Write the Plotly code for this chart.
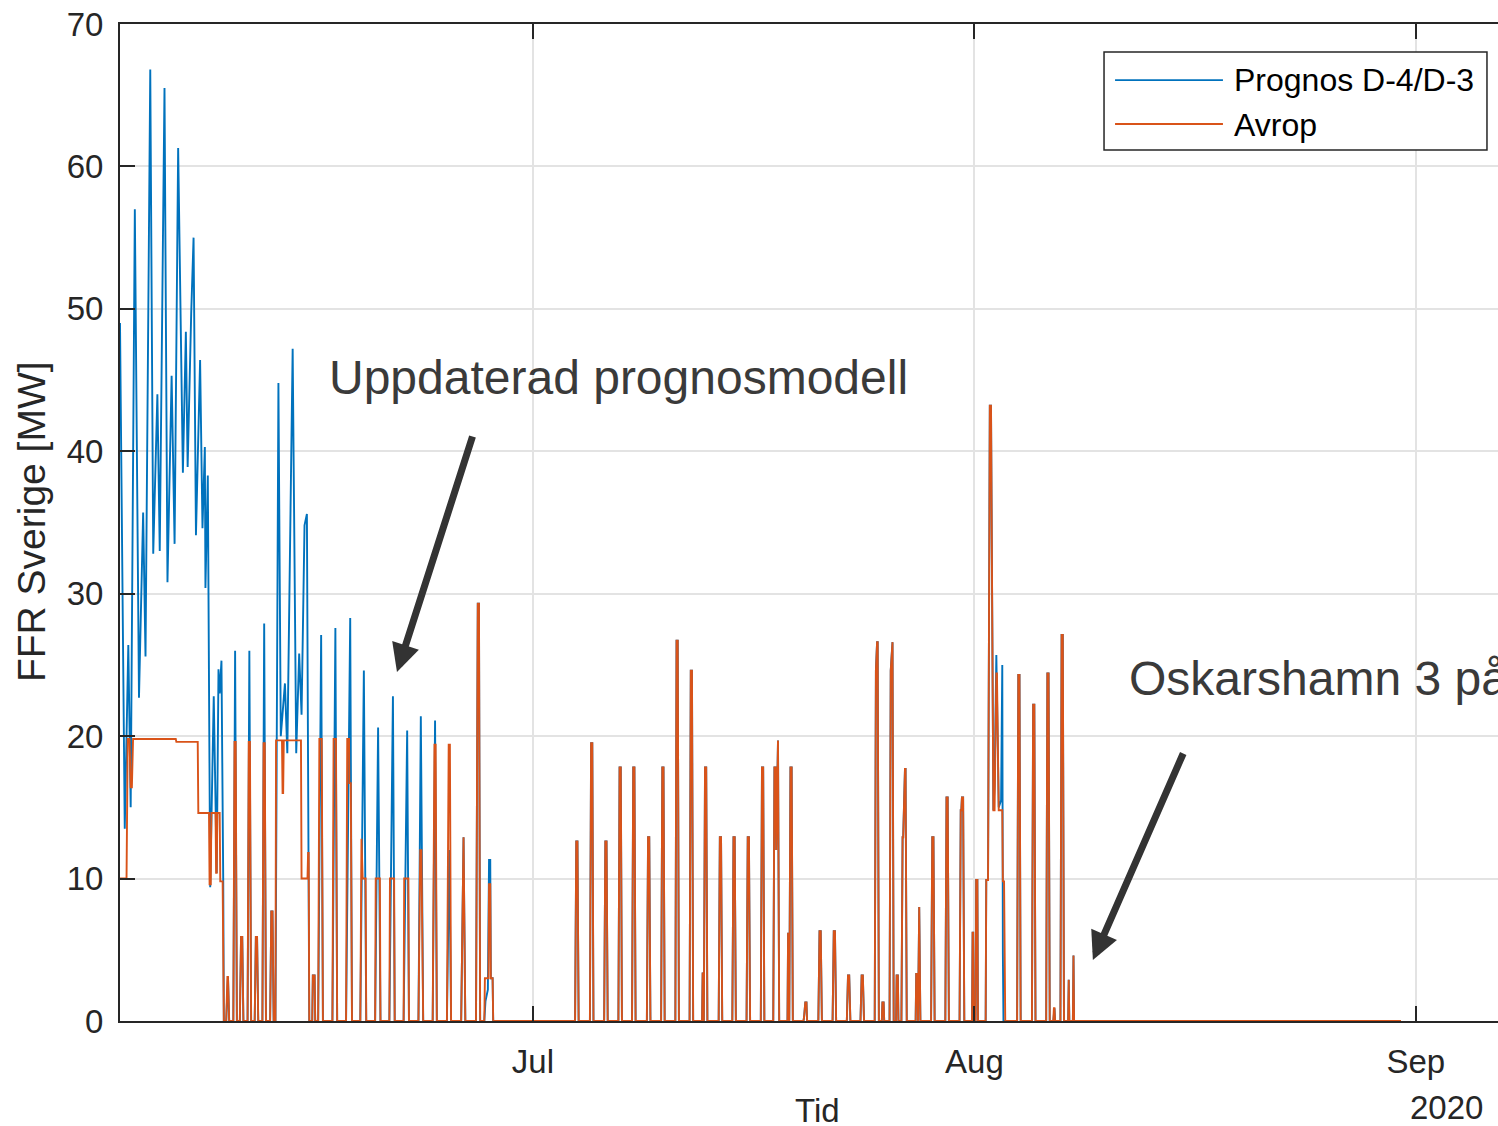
"""
FFR Sverige: prognos D-4/D-3 vs avrop, sommaren 2020.
"""
import pandas as pd
import plotly.graph_objects as go

START = pd.Timestamp("2020-06-02 00:00")
X_END_H = 2322.5          # visible part of the time axis, hours after START

BLUE = "#0072BD"
ORANGE = "#D95319"
AXIS = "#262626"
GRID = "#e3e3e3"
FONT = "Liberation Sans, Arial, sans-serif"

# ── Data: (hours after 2020-06-02 00:00, MW) ──────────────────────────────────
prognos_jun = [
    (0, 49), (2, 41), (8, 13.5), (14, 26.4), (18, 15), (25, 57), (32, 22.7),
    (39, 35.7), (43, 25.6), (51, 66.8), (56, 32.8), (63, 44), (67, 33),
    (75, 65.5), (80, 30.8), (87, 45.3), (92, 33.5), (98, 61.3), (106, 38.5),
    (111, 48.4), (114, 38.9), (120, 49.7), (124, 55), (128, 34.1), (135, 46.4),
    (139, 34.6), (143, 40.3), (144, 30.4), (148, 38.3), (152, 9.4), (158, 22.8),
    (163, 10.4), (166, 24.7), (168, 23), (171, 25.3), (174, 9.8), (175, 0),
    (179, 0), (181, 3.1), (182, 3.1), (184, 0),
    (191, 0), (194, 26), (197, 0),
    (202, 0), (204, 5.9), (206, 5.9), (208, 0),
    (215, 0), (218, 26), (221, 0),
    (227, 0), (229, 5.9), (231, 5.9), (233, 0),
    (240, 0), (243, 27.9), (246, 0),
    (253, 0), (255, 7.7), (257, 7.7), (259, 0),
    (262, 0), (267, 44.8), (271, 20), (278, 23.7), (282, 18.8), (291, 47.2),
    (297, 18.8), (302, 25.8), (306, 21.5), (311, 34.8), (315, 35.6),
    (317, 11.8), (319, 0),
    (324, 0), (325, 3.2), (328, 3.2), (329, 0),
    (334, 0), (339, 27.1), (342, 0),
    (358, 0), (363, 27.6), (366, 0),
    (381, 0), (388, 28.3), (391, 0),
    (405, 0), (411, 24.6), (415, 0),
    (430, 0), (435, 20.6), (439, 0),
    (454, 0), (460, 22.8), (463, 0),
    (478, 0), (484, 20.4), (487, 0),
    (503, 0), (507, 21.4), (511, 0),
    (527, 0), (531, 21.1), (534, 0),
    (551, 0), (555, 12), (558, 0),
    (575, 0), (578, 12.9), (579, 12.9), (582, 0),
    (600, 0), (603, 29.3), (605, 29.3), (607, 0),
    (614, 0), (616, 1.4), (620, 2.2), (622, 11.3), (624, 11.3), (625, 3),
    (628, 3), (629, 0),
]

avrop_jun = [
    (0, 10), (11, 10), (13, 19.8), (16, 19.8), (18, 16.4), (20, 16.4),
    (22, 19.8), (94, 19.8), (95, 19.6), (131, 19.6), (132, 14.6), (150, 14.6),
    (151, 9.6), (153, 9.6), (154, 14.6), (161, 14.6), (162, 10.4), (163, 10.4),
    (164, 14.6), (168, 14.6), (169, 9.8), (173, 9.8), (175, 0),
    (179, 0), (181, 3.1), (182, 3.1), (184, 0),
    (191, 0), (193, 19.6), (195, 19.6), (197, 0),
    (202, 0), (204, 5.9), (206, 5.9), (208, 0),
    (215, 0), (217, 19.6), (219, 19.6), (221, 0),
    (227, 0), (229, 5.9), (231, 5.9), (233, 0),
    (240, 0), (242, 19.5), (244, 19.5), (246, 0),
    (253, 0), (255, 7.7), (257, 7.7), (259, 0),
    (262, 0), (263, 19.7), (273, 19.7), (274, 16), (275, 16), (276, 19.7),
    (305, 19.7), (306, 10), (316, 10), (317, 11.8), (318, 11.8), (319, 0),
    (324, 0), (325, 3.2), (328, 3.2), (329, 0),
    (334, 0), (336, 19.8), (340, 19.8), (342, 0),
    (358, 0), (360, 19.8), (364, 19.8), (366, 0),
    (381, 0), (383, 19.8), (386, 19.8), (386.5, 16.7), (389, 16.7), (391, 0),
    (405, 0), (407, 12.8), (409, 10), (414, 10), (415, 0),
    (430, 0), (431, 10), (438, 10), (439, 0),
    (454, 0), (455, 10), (462, 10), (463, 0),
    (478, 0), (479, 10), (486, 10), (487, 0),
    (503, 0), (506, 12), (508, 12), (511, 0),
    (527, 0), (530, 19.4), (532, 19.4), (534, 0),
    (551, 0), (554, 19.4), (556, 19.4), (558, 0),
    (575, 0), (578, 12.9), (579, 12.9), (582, 0),
    (600, 0), (603, 29.3), (605, 29.3), (607, 0),
    (614, 0), (615, 3), (621, 3), (622, 9.6), (624, 9.6), (625, 3),
    (628, 3), (629, 0),
]

# July and early August: forecast and call-off coincide
common_jul = [
    (767, 0), (769, 12.6), (771, 12.6), (773, 0),
    (792, 0), (794, 19.5), (796, 19.5), (798, 0),
    (816, 0), (818, 12.6), (820, 12.6), (822, 0),
    (840, 0), (842, 17.8), (844, 17.8), (846, 0),
    (863, 0), (865, 17.8), (867, 17.8), (869, 0),
    (888, 0), (890, 12.9), (892, 12.9), (894, 0),
    (912, 0), (914, 17.8), (916, 17.8), (918, 0),
    (936, 0), (938, 26.7), (940, 26.7), (942, 0),
    (960, 0), (962, 24.6), (964, 24.6), (966, 0),
    (981, 0), (982, 3.4), (983, 0),
    (984, 0), (986, 17.8), (988, 17.8), (990, 0),
    (1009, 0), (1011, 12.9), (1013, 12.9), (1015, 0),
    (1032, 0), (1034, 12.9), (1036, 12.9), (1038, 0),
    (1056, 0), (1058, 12.9), (1060, 12.9), (1062, 0),
    (1080, 0), (1082, 17.8), (1084, 17.8), (1086, 0),
    (1101, 0), (1103, 17.8), (1105, 17.8), (1106, 12), (1108, 19.7),
    (1109, 19.7), (1111, 0),
    (1125, 0), (1126, 6.2), (1127, 0),
    (1128, 0), (1130, 17.8), (1132, 17.8), (1134, 0),
    (1152, 0), (1153, 0.3), (1155, 1.3), (1157, 1.3), (1158, 0),
    (1177, 0), (1179, 6.3), (1181, 6.3), (1183, 0),
    (1201, 0), (1203, 6.3), (1205, 6.3), (1207, 0),
    (1225, 0), (1227, 3.2), (1229, 3.2), (1231, 0),
    (1248, 0), (1250, 3.2), (1252, 3.2), (1254, 0),
    (1272, 0), (1274, 24.6), (1276, 26.6), (1277, 26.6), (1279, 0),
    (1284, 0), (1285, 1.3), (1287, 1.3), (1288, 0),
    (1297, 0), (1299, 24.6), (1301, 26.6), (1302, 26.6), (1304, 0),
    (1308, 0), (1309, 3.2), (1311, 3.2), (1312, 0),
    (1317, 0), (1319, 12.9), (1320, 12.9), (1323, 17.7), (1324, 17.7), (1326, 0),
    (1341, 0), (1342, 3.3), (1344, 3.3), (1345, 0), (1346, 8), (1347, 8), (1349, 0),
    (1367, 0), (1369, 12.9), (1371, 12.9), (1373, 0),
    (1391, 0), (1393, 15.7), (1395, 15.7), (1397, 0),
    (1415, 0), (1417, 14.8), (1418, 14.8), (1419, 15.7), (1421, 15.7), (1423, 0),
    (1436, 0), (1437, 6.2), (1438, 6.2), (1439, 0),
    (1442, 0), (1443, 9.9), (1445, 9.9), (1446, 0),
]

prognos_aug_peak = [
    (1459, 0), (1460, 9.9), (1463, 9.9), (1466, 43.2), (1468, 43.2),
    (1472, 14.8), (1474, 16.5), (1477, 25.7), (1479, 20), (1481, 15),
    (1485, 15.5), (1487, 25), (1488, 4.8), (1489, 0),
]

avrop_aug_peak = [
    (1459, 0), (1460, 9.9), (1463, 9.9), (1466, 43.2), (1468, 43.2),
    (1472, 14.8), (1474, 14.8), (1477, 24.4), (1478, 24.4), (1481, 14.8),
    (1487, 14.8), (1488, 9.8), (1490, 9.8), (1492, 0),
]

common_aug = [
    (1512, 0), (1514, 24.3), (1516, 24.3), (1518, 0),
    (1537, 0), (1539, 22.2), (1541, 22.2), (1543, 0),
    (1561, 0), (1563, 24.4), (1565, 24.4), (1567, 0),
    (1573, 0), (1574, 0.9), (1575, 0.9), (1576, 0),
    (1585, 0), (1587, 27.1), (1589, 27.1), (1591, 0),
    (1598, 0), (1599, 2.9), (1600, 0),
    (1606, 0), (1607, 4.6), (1608, 0),
    (2159, 0),
]

tick_dates = ["2020-07-01", "2020-08-01", "2020-09-01"]
tick_text = ["Jul", "Aug", "Sep"]
y_ticks = [0, 10, 20, 30, 40, 50, 60, 70]


def to_xy(points):
    hours = [p[0] for p in points]
    mw = [p[1] for p in points]
    return START + pd.to_timedelta(hours, unit="h"), mw


prognos_x, prognos_y = to_xy(prognos_jun + common_jul + prognos_aug_peak + common_aug)
avrop_x, avrop_y = to_xy(avrop_jun + common_jul + avrop_aug_peak + common_aug)

fig = go.Figure()
fig.add_trace(go.Scatter(
    x=prognos_x, y=prognos_y, mode="lines",
    line=dict(color=BLUE, width=1.9), name="Prognos D-4/D-3", showlegend=False,
))
fig.add_trace(go.Scatter(
    x=avrop_x, y=avrop_y, mode="lines",
    line=dict(color=ORANGE, width=1.9), name="Avrop", showlegend=False,
))

# ── Legend (drawn by hand to get MATLAB's long line samples) ────────────────
shapes = [
    dict(type="rect", xref="paper", yref="paper", x0=0.7141, x1=0.9920,
         y0=0.8736, y1=0.9719, fillcolor="white", line=dict(color=AXIS, width=1.5),
         layer="above"),
    dict(type="line", xref="paper", yref="paper", x0=0.7221, x1=0.8004,
         y0=0.9438, y1=0.9438, line=dict(color=BLUE, width=1.8), layer="above"),
    dict(type="line", xref="paper", yref="paper", x0=0.7221, x1=0.8004,
         y0=0.8997, y1=0.8997, line=dict(color=ORANGE, width=1.8), layer="above"),
]

annotations = [
    dict(text="Prognos D-4/D-3", xref="paper", yref="paper", x=0.8070, y=0.9438,
         xanchor="left", yanchor="middle", showarrow=False,
         font=dict(size=32, color="black", family=FONT)),
    dict(text="Avrop", xref="paper", yref="paper", x=0.8070, y=0.8990,
         xanchor="left", yanchor="middle", showarrow=False,
         font=dict(size=32, color="black", family=FONT)),
    # callouts
    dict(text="Uppdaterad prognosmodell", xref="paper", yref="paper",
         x=0.1502, y=0.645, xanchor="left", yanchor="middle", showarrow=False,
         font=dict(size=48, color="#3a3a3a", family=FONT)),
    dict(text="Oskarshamn 3 på", xref="paper", yref="paper",
         x=0.7308, y=0.344, xanchor="left", yanchor="middle", showarrow=False,
         font=dict(size=48, color="#3a3a3a", family=FONT)),
    dict(text="", xref="paper", yref="paper", x=0.201, y=0.350,
         ax=76, ay=-237, showarrow=True, arrowhead=2, arrowsize=0.8,
         arrowwidth=7, arrowcolor="#333333"),
    dict(text="", xref="paper", yref="paper", x=0.706, y=0.0612,
         ax=91, ay=-208, showarrow=True, arrowhead=2, arrowsize=0.8,
         arrowwidth=7, arrowcolor="#333333"),
    # axis titles
    dict(text="FFR Sverige [MW]", xref="paper", yref="paper", x=-0.0645, y=0.5005,
         textangle=-90, xanchor="center", yanchor="middle", showarrow=False,
         font=dict(size=39, color=AXIS, family=FONT)),
    dict(text="Tid", xref="paper", yref="paper", x=0.5065, y=-0.0893,
         xanchor="center", yanchor="middle", showarrow=False,
         font=dict(size=33, color=AXIS, family=FONT)),
    dict(text="2020", xref="paper", yref="paper", x=0.9906, y=-0.0863,
         xanchor="right", yanchor="middle", showarrow=False,
         font=dict(size=33, color=AXIS, family=FONT)),
]

fig.update_layout(
    width=1498, height=1126,
    paper_bgcolor="white", plot_bgcolor="white",
    margin=dict(l=120, r=0, t=24, b=105),
    font=dict(family=FONT, color=AXIS, size=33),
    shapes=shapes,
    annotations=annotations,
)
fig.update_xaxes(
    type="date",
    range=[START, START + pd.Timedelta(hours=X_END_H)],
    tickvals=pd.to_datetime(tick_dates), ticktext=tick_text,
    ticks="inside", ticklen=15, tickwidth=2, tickcolor=AXIS,
    showline=True, linecolor=AXIS, linewidth=2, mirror="ticks",
    showgrid=True, gridcolor=GRID, gridwidth=1.5, zeroline=False,
    tickfont=dict(size=33, color=AXIS), ticklabelstandoff=10,
)
fig.update_yaxes(
    range=[0, 70], tickvals=y_ticks,
    ticks="inside", ticklen=15, tickwidth=2, tickcolor=AXIS,
    showline=True, linecolor=AXIS, linewidth=2,
    showgrid=True, gridcolor=GRID, gridwidth=1.5, zeroline=False,
    tickfont=dict(size=33, color=AXIS), ticklabelstandoff=8,
    ticklabeloverflow="allow",
)

# drop the default 8 px body margin so the figure fills the window exactly
fig.write_html(
    "out.html",
    config={"displayModeBar": False},
    post_script="document.body.style.margin = '0';",
)
